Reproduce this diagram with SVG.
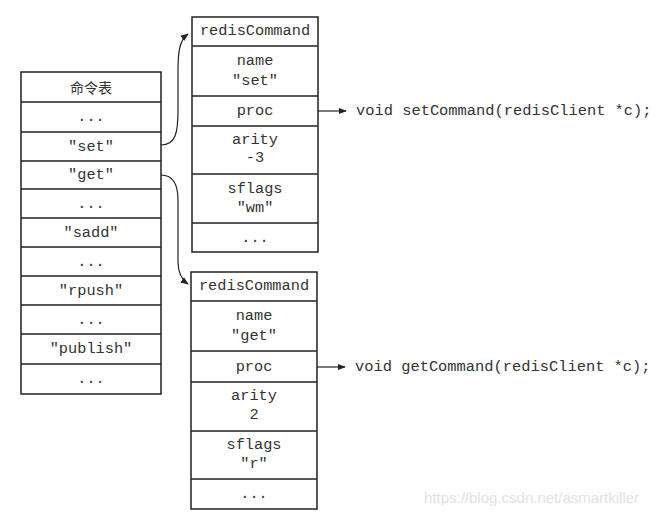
<svg xmlns="http://www.w3.org/2000/svg" width="662" height="516" viewBox="0 0 662 516">
<defs>
<style>
.box{fill:#fff;stroke:#222;stroke-width:1.5}
.ln{stroke:#222;stroke-width:1.5}
.t{font-family:"Liberation Mono","DejaVu Sans Mono",monospace;font-size:15.3px;fill:#333;text-anchor:middle;dominant-baseline:central}
.c{font-family:"Noto Sans CJK SC",serif;font-size:14px;fill:#333;text-anchor:middle;dominant-baseline:central}
.code{font-family:"Liberation Mono","DejaVu Sans Mono",monospace;font-size:15.4px;fill:#333;dominant-baseline:central}
.con{fill:none;stroke:#222;stroke-width:1.2}
.wm{font-family:"Liberation Sans",Arial,sans-serif;font-size:15px;fill:#e2e2e2}
</style>
<marker id="ah" viewBox="0 0 10 10" refX="9" refY="5" markerWidth="8" markerHeight="8" orient="auto" markerUnits="userSpaceOnUse">
<path d="M0,1 L10,5 L0,9 Z" fill="#222"/>
</marker>
</defs>
<rect width="662" height="516" fill="#fff"/>

<g id="table">
<rect class="box" x="21" y="72" width="140" height="322"/>
<line class="ln" x1="21" y1="102" x2="161" y2="102"/>
<line class="ln" x1="21" y1="132" x2="161" y2="132"/>
<line class="ln" x1="21" y1="161" x2="161" y2="161"/>
<line class="ln" x1="21" y1="189" x2="161" y2="189"/>
<line class="ln" x1="21" y1="218" x2="161" y2="218"/>
<line class="ln" x1="21" y1="247" x2="161" y2="247"/>
<line class="ln" x1="21" y1="276" x2="161" y2="276"/>
<line class="ln" x1="21" y1="305" x2="161" y2="305"/>
<line class="ln" x1="21" y1="334" x2="161" y2="334"/>
<line class="ln" x1="21" y1="364" x2="161" y2="364"/>
<text class="c" x="91" y="87">命令表</text>
<text class="t" x="91" y="117">...</text>
<text class="t" x="91" y="147">"set"</text>
<text class="t" x="91" y="175">"get"</text>
<text class="t" x="91" y="204">...</text>
<text class="t" x="91" y="233">"sadd"</text>
<text class="t" x="91" y="262">...</text>
<text class="t" x="91" y="291">"rpush"</text>
<text class="t" x="91" y="320">...</text>
<text class="t" x="91" y="349">"publish"</text>
<text class="t" x="91" y="379">...</text>
</g>

<g id="cmd-set">
<rect class="box" x="192" y="17" width="126" height="235"/>
<line class="ln" x1="192" y1="46" x2="318" y2="46"/>
<line class="ln" x1="192" y1="96" x2="318" y2="96"/>
<line class="ln" x1="192" y1="126" x2="318" y2="126"/>
<line class="ln" x1="192" y1="174" x2="318" y2="174"/>
<line class="ln" x1="192" y1="223" x2="318" y2="223"/>
<text class="t" x="255" y="31">redisCommand</text>
<text class="t" x="255" y="61">name</text>
<text class="t" x="255" y="81">"set"</text>
<text class="t" x="255" y="111">proc</text>
<text class="t" x="255" y="140">arity</text>
<text class="t" x="255" y="158">-3</text>
<text class="t" x="255" y="189">sflags</text>
<text class="t" x="255" y="208">"wm"</text>
<text class="t" x="255" y="238">...</text>
</g>

<g id="cmd-get">
<rect class="box" x="191" y="272" width="126" height="237"/>
<line class="ln" x1="191" y1="301" x2="317" y2="301"/>
<line class="ln" x1="191" y1="351" x2="317" y2="351"/>
<line class="ln" x1="191" y1="382" x2="317" y2="382"/>
<line class="ln" x1="191" y1="431" x2="317" y2="431"/>
<line class="ln" x1="191" y1="479" x2="317" y2="479"/>
<text class="t" x="254" y="286">redisCommand</text>
<text class="t" x="254" y="316">name</text>
<text class="t" x="254" y="336">"get"</text>
<text class="t" x="254" y="367">proc</text>
<text class="t" x="254" y="396">arity</text>
<text class="t" x="254" y="415">2</text>
<text class="t" x="254" y="445">sflags</text>
<text class="t" x="254" y="464">"r"</text>
<text class="t" x="254" y="494">...</text>
</g>

<g id="fn-set">
<text class="code" x="356" y="111">void setCommand(redisClient *c);</text>
</g>
<g id="fn-get">
<text class="code" x="355" y="367">void getCommand(redisClient *c);</text>
</g>

<g id="connectors">
<path class="con" d="M161,145 C176,145 178,132 178,110 L178,70 C178,50 180,40 188,34" marker-end="url(#ah)"/>
<path class="con" d="M161,175 C172,175 178,182 178,200 L178,262 C178,272 181,279 188,284" marker-end="url(#ah)"/>
<line class="con" x1="318" y1="111" x2="346" y2="111" marker-end="url(#ah)"/>
<line class="con" x1="317" y1="367" x2="345" y2="367" marker-end="url(#ah)"/>
</g>

<text class="wm" x="424" y="503">https://blog.csdn.net/asmartkiller</text>
</svg>
